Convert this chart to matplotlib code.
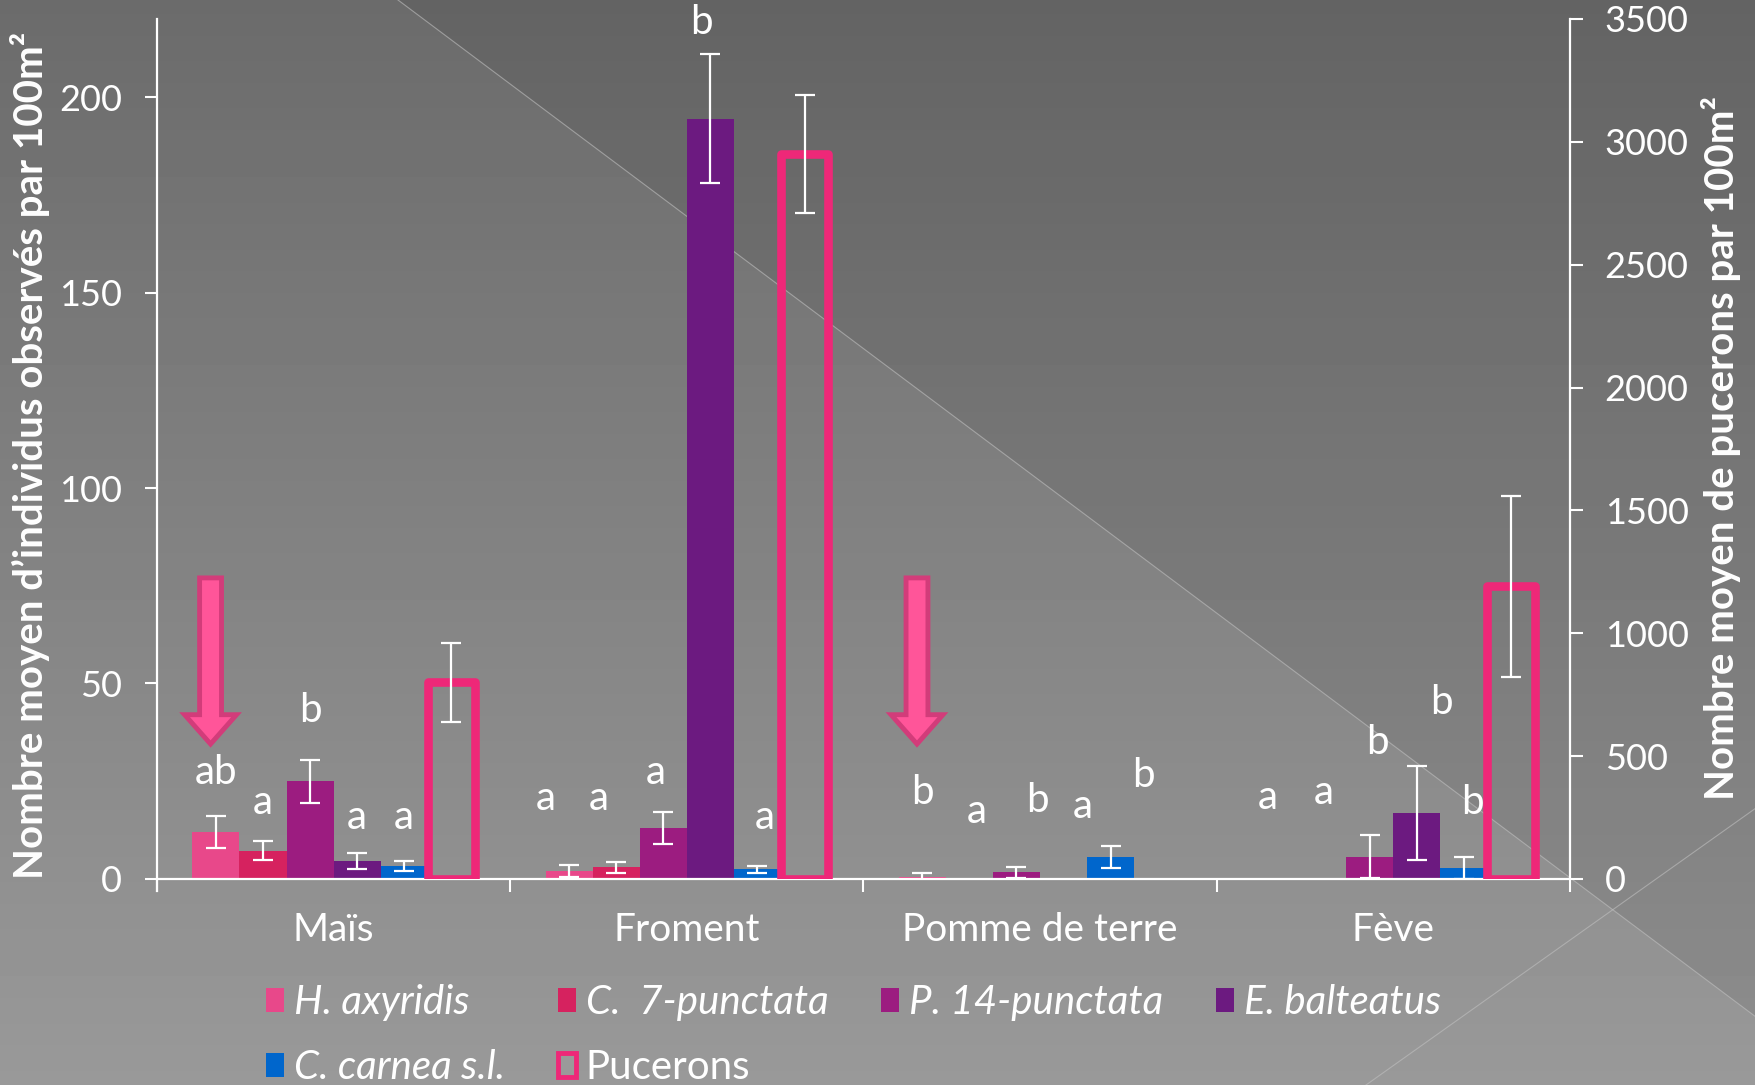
import numpy as np
import matplotlib.pyplot as plt
from matplotlib.patches import FancyArrow, Patch, Polygon

# ---------------------- Data ----------------------

cultures = ["Maïs", "Froment", "Pomme de terre", "Fève"]
especes = ["H. axyridis", "C.  7-punctata", "P. 14-punctata", "E. balteatus", "C. carnea s.l."]

h_axyridis = [12.0, 2.0, 0.6, 0.0]
h_axyridis_err = [4.0, 1.5, 1.0, 0.0]
c_7punctata = [7.2, 3.0, 0.0, 0.0]
c_7punctata_err = [2.5, 1.4, 0.0, 0.0]
p_14punctata = [25.0, 13.0, 1.7, 5.6]
p_14punctata_err = [5.5, 4.0, 1.4, 5.5]
e_balteatus = [4.6, 194.5, 0.0, 16.9]
e_balteatus_err = [2.0, 16.5, 0.0, 12.0]
c_carnea = [3.3, 2.4, 5.6, 2.7]
c_carnea_err = [1.2, 1.0, 2.7, 2.8]

pucerons = [800, 2950, 0, 1190]
pucerons_err = [160, 240, 0, 370]

# significance letters per culture (one per species)
lettres = [["ab", "a", "b", "a", "a"],
           ["a", "a", "a", "b", "a"],
           ["b", "a", "b", "a", "b"],
           ["a", "a", "b", "b", "b"]]
lettres_y = [[27.2, 19.5, 43, 15.8, 15.8],
             [20.6, 20.6, 27.2, 219, 15.8],
             [22, 17.2, 20, 18.6, 26.4],
             [20.9, 22, 35, 45, 19.5]]
lettres_dx = [[0, 0, 0, 0, 0],
              [-0.067, -0.05, -0.02, -0.025, 0.02],
              [0, 0.022, 0.06, 0.054, 0.092],
              [-0.022, 0.003, 0.022, 0.07, 0.025]]

couleurs = ["#E8488A", "#D6225F", "#9C1C80", "#6C1A80", "#0066CC"]
rose = "#EE2878"

# ---------------------- Figure ----------------------

plt.rcParams['font.family'] = ['Lato', 'DejaVu Sans']
W, H = 1756, 1085
fig = plt.figure(figsize=(W / 100, H / 100), dpi=100)

# background gradient + darker triangle top right
bg = fig.add_axes([0, 0, 1, 1], zorder=-10)
yy = np.linspace(0, 1, 300)[:, None] * np.ones((1, 2))
bg.imshow(0.42 + 0.18 * yy, cmap='gray', vmin=0, vmax=1, aspect='auto',
          extent=[0, W, H, 0])
bg.add_patch(Polygon([[398, 0], [W, 0], [W, 1017]], closed=True,
                     facecolor='black', alpha=0.07, lw=0))
bg.plot([398, W], [0, 1017], color='#c0c0c0', lw=0.8, alpha=0.6)
bg.plot([1366, W], [H, 808], color='#c0c0c0', lw=0.8, alpha=0.6)
bg.set_xlim(0, W)
bg.set_ylim(H, 0)
bg.axis('off')

ax = fig.add_axes([0.0894, 0.190, 0.8046, 0.7925])
ax.set_facecolor('none')
ax2 = ax.twinx()

x = np.arange(len(cultures))
w = 0.8 / 6
series = [(h_axyridis, h_axyridis_err), (c_7punctata, c_7punctata_err),
          (p_14punctata, p_14punctata_err), (e_balteatus, e_balteatus_err),
          (c_carnea, c_carnea_err)]

for i, (vals, errs) in enumerate(series):
    pos = x + (i - 2.5) * w
    vals = np.array(vals)
    errs = np.array(errs)
    ax.bar(pos, vals, w, color=couleurs[i], zorder=2)
    m = errs > 0
    ax.errorbar(pos[m], vals[m], yerr=errs[m], fmt='none', ecolor='white',
                elinewidth=1.6, capsize=7, capthick=1.6, zorder=3)
    for k in range(len(cultures)):
        ax.text(pos[k] + lettres_dx[k][i], lettres_y[k][i], lettres[k][i],
                color='white', fontsize=29, ha='center', va='center',
                clip_on=False, zorder=4)

# Pucerons (right axis), empty pink boxes
pos_p = x + 2.5 * w
puc = np.array(pucerons)
puc_err = np.array(pucerons_err)
m = puc > 0
ax2.bar(pos_p[m], puc[m], w, facecolor='none', edgecolor=rose, lw=6.2,
        joinstyle='round', zorder=2)
ax2.errorbar(pos_p[m], puc[m], yerr=puc_err[m], fmt='none', ecolor='white',
             elinewidth=1.6, capsize=7, capthick=1.6, zorder=3)

# pink arrows over Maïs and Pomme de terre
for k in [0, 2]:
    xa = x[k] - 2.5 * w - 0.015
    ax.add_patch(FancyArrow(xa, 77, 0, 34.5 - 77, width=0.062, head_width=0.147,
                            head_length=7.5, length_includes_head=True,
                            facecolor='#FF5599', edgecolor='#D23C7A', lw=3.5,
                            zorder=5))

# ---------------------- Axes styling ----------------------

ax.set_xlim(-0.5, len(cultures) - 0.5)
ax.set_ylim(0, 220)
ax2.set_ylim(0, 3500)
ax.set_yticks(np.arange(0, 201, 50))
ax2.set_yticks(np.arange(0, 3501, 500))

ax.set_xticks(x)
ax.set_xticklabels(cultures)
ax.set_xticks(np.arange(-0.5, len(cultures), 1), minor=True)
ax.tick_params(axis='x', which='major', length=0, pad=24, labelsize=28,
               labelcolor='white')
ax.tick_params(axis='x', which='minor', length=9, width=1.5, color='white',
               direction='out')
ax.tick_params(axis='y', length=9, width=1.5, color='white', labelsize=26,
               labelcolor='white', pad=16)
ax2.tick_params(axis='y', length=9, width=1.5, color='white', labelsize=26,
                labelcolor='white', pad=16)

for a in (ax, ax2):
    for s in a.spines.values():
        s.set_visible(False)
ax.spines['left'].set_visible(True)
ax.spines['bottom'].set_visible(True)
ax2.spines['right'].set_visible(True)
for s in (ax.spines['left'], ax.spines['bottom'], ax2.spines['right']):
    s.set_color('white')
    s.set_linewidth(1.6)
ax.spines['left'].set_bounds(-12 / 3.909, 220)

fig.text(30 / W, 1 - 455 / H, "Nombre moyen d’individus observés par 100m²",
         rotation=90, ha='center', va='center', color='white',
         fontsize=29, fontweight='bold')
fig.text(1721 / W, 1 - 448 / H, "Nombre moyen de pucerons par 100m²",
         rotation=90, ha='center', va='center', color='white',
         fontsize=29, fontweight='bold')

# ---------------------- Legend ----------------------

handles = [Patch(facecolor=c, edgecolor='none') for c in couleurs]
handles.append(Patch(facecolor='#9a9a9a', edgecolor=rose, lw=3.5))
labels = especes + ["Pucerons"]
# legend fills column by column: reorder so rows read left to right
ordre = [0, 4, 1, 5, 2, 3]
leg = fig.legend([handles[j] for j in ordre], [labels[j] for j in ordre],
                 ncol=4, loc='upper left',
                 bbox_to_anchor=(266 / W, 1 - 984 / H), frameon=False,
                 prop={'size': 29, 'style': 'italic'},
                 handlelength=0.45, handleheight=0.55, handletextpad=0.25,
                 columnspacing=1.3, labelspacing=0.7, borderpad=0,
                 borderaxespad=0)
for t in leg.get_texts():
    t.set_color('white')
    if t.get_text() == "Pucerons":
        t.set_fontstyle('normal')

fig.savefig("out.png", dpi=100)
